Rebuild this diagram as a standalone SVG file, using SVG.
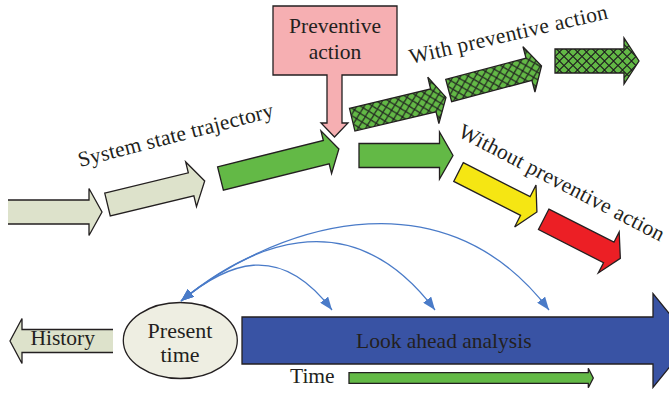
<svg xmlns="http://www.w3.org/2000/svg" width="669" height="393" viewBox="0 0 669 393">
  <style>
    .blk { stroke: #231f20; stroke-width: 1.3; stroke-linejoin: miter; }
    .pale { fill: #dde2cb; }
    .green { fill: #63b946; }
    .hatched { fill: url(#hatch); }
    .yellow { fill: #f5e613; }
    .red { fill: #ec1f25; }
    .pink { fill: #f6afb2; }
    .navy { fill: #3953a4; }
    .oval { fill: #eeeee2; }
    .lbl { font-family: "Liberation Serif", "Times New Roman", serif; font-size: 21.5px; fill: #231f20; }
    .mid { text-anchor: middle; }
    .link { fill: none; stroke: #4a7bc8; stroke-width: 1.3; marker-start: url(#tipB); marker-end: url(#tipB); }
  </style>
  <defs>
    <pattern id="hatch" width="9" height="9" patternUnits="userSpaceOnUse">
      <rect width="9" height="9" fill="#63b946"/>
      <path d="M0,4.5 L4.5,0 L9,4.5 L4.5,9 Z" fill="none" stroke="#1f1f1f" stroke-width="1.1"/>
    </pattern>
    <marker id="tipB" viewBox="0 0 13 10" refX="13" refY="5" markerWidth="13" markerHeight="10" markerUnits="userSpaceOnUse" orient="auto-start-reverse">
      <path d="M0,0 L13,5 L0,10 Z" fill="#4a7bc8"/>
    </marker>
  </defs>

  <!-- system state trajectory -->
  <g id="past-step-1">
    <path class="blk pale" transform="translate(8,212)" d="M0,-12 L81,-12 L81,-23.5 L94,0 L81,23.5 L81,12 L0,12"/>
  </g>
  <g id="past-step-2">
    <path class="blk pale" transform="translate(107.5,204.5) rotate(-13.6)" d="M0,-11.8 L86,-11.8 L86,-23 L100,0 L86,23 L86,11.8 L0,11.8 Z"/>
  </g>
  <g id="current-step">
    <path class="blk green" transform="translate(220.5,178.5) rotate(-14)" d="M0,-12 L109,-12 L109,-22 L122,0 L109,22 L109,12 L0,12 Z"/>
  </g>
  <text class="lbl" transform="translate(80,167) rotate(-14.5)" textLength="201">System state trajectory</text>

  <!-- preventive action callout -->
  <g id="preventive-action">
    <path class="blk pink" d="M273,6 L397,6 L397,75 L342,75 L342,123 L348,123 L334.5,137 L321,123 L327,123 L327,75 L273,75 Z"/>
    <text class="lbl mid" x="335" y="33">Preventive</text>
    <text class="lbl mid" x="335" y="59">action</text>
  </g>

  <!-- branch with preventive action -->
  <g id="with-step-1">
    <path class="blk hatched" transform="translate(352.2,119.7) rotate(-13.4)" d="M0,-11.7 L83.4,-11.7 L83.4,-23.9 L96.4,0 L83.4,23.9 L83.4,11.7 L0,11.7 Z"/>
  </g>
  <g id="with-step-2">
    <path class="blk hatched" transform="translate(448.7,90.5) rotate(-14.8)" d="M0,-11.5 L83,-11.5 L83,-23.5 L96,0 L83,23.5 L83,11.5 L0,11.5 Z"/>
  </g>
  <g id="with-step-3">
    <path class="blk hatched" transform="translate(555,61)" d="M0,-12 L69,-12 L69,-23 L84,0 L69,23 L69,12 L0,12 Z"/>
  </g>
  <text class="lbl" transform="translate(411,64) rotate(-13)" textLength="203">With preventive action</text>

  <!-- branch without preventive action -->
  <g id="without-step-1">
    <path class="blk green" transform="translate(359,155.5)" d="M0,-12 L80.5,-12 L80.5,-23.5 L94,0 L80.5,23.5 L80.5,12 L0,12 Z"/>
  </g>
  <g id="without-step-2">
    <path class="blk yellow" transform="translate(458.5,172) rotate(27)" d="M0,-10.5 L75,-10.5 L75,-23.5 L88,0 L75,23.5 L75,10.5 L0,10.5 Z"/>
  </g>
  <g id="without-step-3">
    <path class="blk red" transform="translate(543.7,219.3) rotate(27)" d="M0,-11.5 L73,-11.5 L73,-23 L86,0 L73,23 L73,11.5 L0,11.5 Z"/>
  </g>
  <text class="lbl" transform="translate(457,136) rotate(27.5)" textLength="229">Without preventive action</text>

  <!-- timeline -->
  <g id="history">
    <path class="blk pale" d="M113,329.5 L22,329.5 L22,318.5 L10,341 L22,363.5 L22,352.5 L113,352.5"/>
    <text class="lbl" x="30.5" y="345">History</text>
  </g>
  <g id="present-time">
    <ellipse class="blk oval" cx="180.3" cy="340.5" rx="57" ry="38"/>
    <text class="lbl mid" x="180" y="338" style="font-size:22px">Present</text>
    <text class="lbl mid" x="180" y="361.5" style="font-size:22px">time</text>
  </g>
  <g id="look-ahead">
    <path class="blk navy" d="M242,317 L653,317 L653,293.5 L691,340.5 L653,387.5 L653,364 L242,364 Z"/>
    <text class="lbl" x="356" y="348">Look ahead analysis</text>
  </g>
  <g id="time-axis">
    <path class="blk green" d="M349,372.7 L588.3,372.7 L588.3,368.3 L593.3,378 L588.3,387.7 L588.3,383.3 L349,383.3 Z"/>
    <text class="lbl" x="290" y="383">Time</text>
  </g>

  <!-- look-ahead links -->
  <g id="connectors">
    <path class="link" d="M181,301 C226,264 278.7,239.7 332,310"/>
    <path class="link" d="M181,301 C243,250 347.6,194.1 435,310"/>
    <path class="link" d="M181,301 C266.7,231 438.3,165.1 549,310"/>
  </g>
</svg>
